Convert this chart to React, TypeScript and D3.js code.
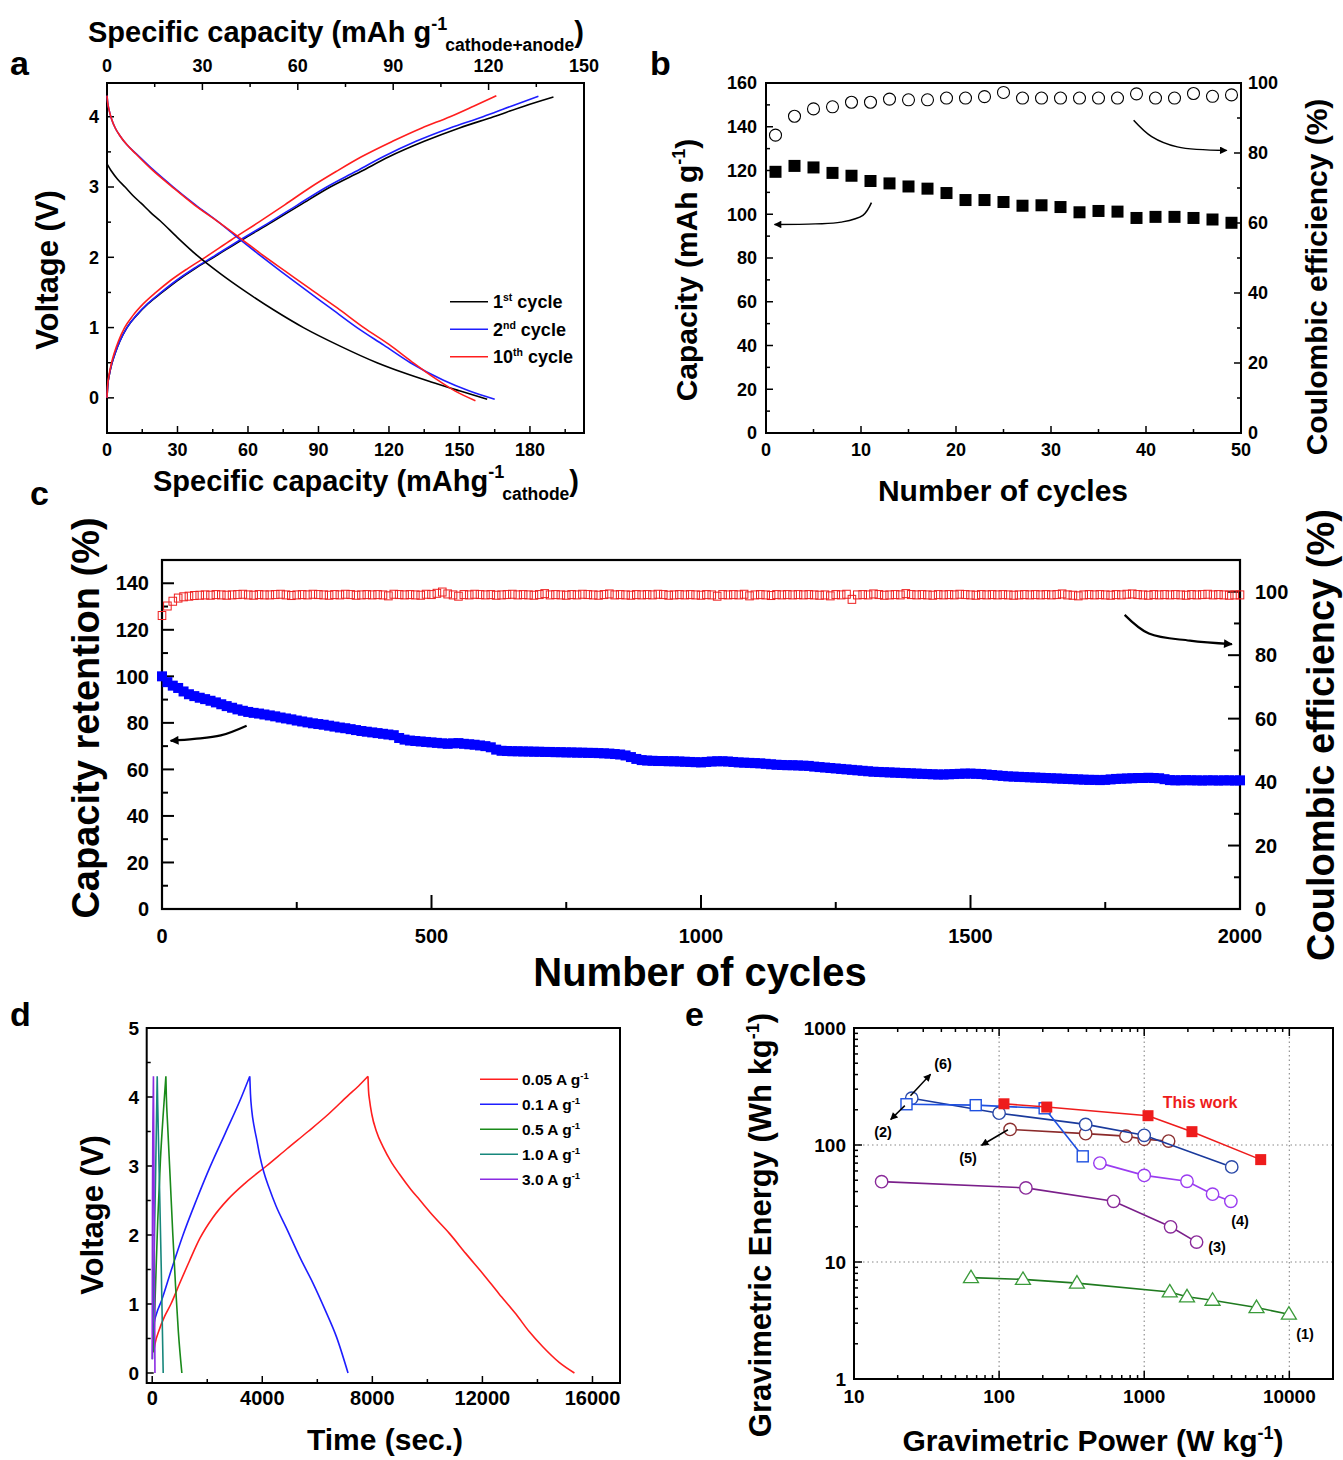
import React from "react";
import * as d3 from "d3";

const SANS = "'Liberation Sans', Arial, Helvetica, sans-serif";
const NARROW = "'Liberation Sans Narrow', 'Arial Narrow', 'Liberation Sans', Arial, sans-serif";

// ================= Panel a : charge / discharge profiles =================
const aLegendNums = ["1", "2", "10"];
const aLegendSup = ["st", "nd", "th"];
const aColors = ["#000000", "#1e1eff", "#ff1e1e"];
const aCharge1 = [[0,0],[0.3,0.17],[1,0.33],[2,0.48],[3.5,0.64],[5.5,0.81],[8.5,1.0],[12.5,1.17],[17.5,1.34],[23.4,1.5],[30,1.67],[37.5,1.84],[45.4,2.0],[57.5,2.25],[70.2,2.5],[82.5,2.75],[95,3.0],[108,3.22],[120,3.43],[135,3.65],[150,3.84],[164.5,4.0],[177.5,4.15],[190,4.28]];
const aCharge2 = [[0,0],[0.3,0.17],[1,0.33],[2,0.48],[3.5,0.64],[5.5,0.81],[8.5,1.0],[12.4,1.17],[17.3,1.34],[23,1.5],[29.5,1.67],[37,1.84],[44.8,2.0],[56.8,2.25],[69.3,2.5],[81.3,2.75],[93.5,3.0],[105.8,3.22],[117.5,3.43],[131.5,3.65],[146,3.84],[160,4.0],[172,4.15],[183.6,4.29]];
const aCharge10 = [[0,0],[0.25,0.17],[0.9,0.33],[1.8,0.48],[3.1,0.64],[4.9,0.81],[7.5,1.0],[11,1.17],[15.5,1.34],[20.8,1.5],[27,1.67],[34.3,1.84],[41.8,2.0],[53,2.25],[64.6,2.5],[75.8,2.75],[86.8,3.0],[97.5,3.22],[108.3,3.43],[121.5,3.65],[134,3.84],[146,4.0],[156,4.15],[165.7,4.3]];
const aDischarge1 = [[0,3.33],[2,3.22],[4.5,3.11],[7.7,3.0],[11,2.88],[14.5,2.77],[18.5,2.64],[22.6,2.52],[30,2.28],[38.2,2.03],[48.5,1.76],[59.5,1.5],[71,1.25],[83.6,1.0],[99,0.74],[114.9,0.5],[126,0.36],[137.6,0.23],[150,0.1],[161.8,-0.02]];
const aDischarge2 = [[0,4.3],[0.3,4.2],[1,4.08],[2,3.96],[3.5,3.84],[5.5,3.73],[8.5,3.6],[12.6,3.47],[19.5,3.25],[28.2,3.0],[37.5,2.75],[47.5,2.5],[56,2.27],[64.3,2.05],[74,1.8],[84,1.55],[95,1.28],[106.4,1.0],[117.8,0.75],[129.1,0.5],[143.2,0.25],[154,0.1],[165,-0.02]];
const aDischarge10 = [[0,4.3],[0.3,4.2],[1,4.08],[2,3.96],[3.5,3.84],[5.5,3.73],[8.5,3.6],[12.3,3.47],[19,3.25],[27.8,3.0],[37,2.75],[47.5,2.5],[56.8,2.27],[65.5,2.05],[76,1.8],[86.5,1.55],[98,1.28],[109.3,1.0],[120,0.76],[129.5,0.52],[139.5,0.28],[148,0.1],[156.8,-0.04]];
const aBottomTicks = [0, 30, 60, 90, 120, 150, 180];
const aTopTicks = [0, 30, 60, 90, 120, 150];
const aYTicks = [0, 1, 2, 3, 4];

// ================= Panel b : 50 cycles =================
const bCycles = [1,3,5,7,9,11,13,15,17,19,21,23,25,27,29,31,33,35,37,39,41,43,45,47,49];
const bCapacity = [119.4,122.1,121.4,118.9,117.6,115.2,114.1,112.7,111.7,109.7,106.5,106.5,105.6,103.9,104.1,103.3,100.9,101.5,101.2,98.3,98.8,98.8,98.3,97.6,96.1];
const bCE = [85.1,90.5,92.6,93.2,94.5,94.5,95.4,95.2,95.2,95.7,95.7,96.1,97.3,95.7,95.7,95.7,95.7,95.7,95.7,96.9,95.7,95.7,97.0,96.2,96.6];
const bXTicks = [0, 10, 20, 30, 40, 50];
const bYLTicks = [0, 20, 40, 60, 80, 100, 120, 140, 160];
const bYRTicks = [0, 20, 40, 60, 80, 100];

// ================= Panel c : 2000 cycles (every 10th cycle) =================
const cStep = 10;
const cRetention = [
  100,97.5,96,95,93.5,92.3,91.5,90.8,90.2,89.5,
  88.8,88,87.2,86.5,85.8,85.2,84.7,84.3,84,83.6,
  83.2,82.8,82.3,81.9,81.5,81,80.6,80.2,79.8,79.5,
  79.2,78.8,78.4,78,77.7,77.3,76.9,76.5,76.2,75.9,
  75.6,75.3,75,74.7,73.5,72.8,72.4,72.2,72,71.8,
  71.6,71.4,71.2,71,71.2,71.3,71,70.8,70.6,70.3,
  70,69.5,68.5,68,67.9,67.8,67.8,67.7,67.7,67.6,
  67.6,67.5,67.5,67.4,67.4,67.3,67.3,67.2,67.2,67.1,
  67.1,67,66.9,66.8,66.6,66.4,66,65.3,64.5,64,
  63.8,63.7,63.6,63.6,63.5,63.5,63.4,63.3,63.2,63.1,
  63,63.2,63.4,63.5,63.5,63.4,63.2,63,62.9,62.8,
  62.7,62.6,62.4,62.2,62,61.9,61.8,61.8,61.7,61.6,
  61.5,61.2,61,60.8,60.6,60.4,60.2,60,59.8,59.6,
  59.4,59.2,59,58.9,58.8,58.7,58.6,58.5,58.4,58.3,
  58.2,58.1,58,57.9,57.8,57.8,57.9,58,58.1,58.2,
  58.2,58.1,58,57.8,57.6,57.4,57.2,57,56.9,56.8,
  56.7,56.6,56.5,56.4,56.3,56.2,56.1,56,55.9,55.8,
  55.7,55.6,55.5,55.5,55.4,55.5,55.7,55.9,56,56.1,
  56.2,56.3,56.3,56.4,56.3,56.2,55.8,55.4,55.3,55.3,
  55.4,55.3,55.3,55.2,55.3,55.3,55.2,55.3,55.3,55.2,
  55.3];
const cCE = [
  92.5,95.5,97,98,98.4,98.6,98.8,98.9,99.0,98.9,
  99.1,99.0,98.9,99.0,99.1,99.2,99.0,98.9,99.1,99.0,
  99.0,99.1,99.2,99.0,98.8,99.0,99.1,99.0,99.2,99.1,
  99.0,98.9,99.1,99.0,99.2,99.1,98.9,99.0,99.1,99.0,
  99.1,99.0,98.7,99.2,99.1,99.0,99.1,99.0,98.9,99.2,
  99.1,99.5,99.9,99.3,99.0,98.6,99.1,99.0,99.2,99.1,
  99.0,99.1,98.9,99.0,99.1,99.2,99.0,99.1,99.0,98.9,
  99.1,99.4,99.0,99.1,99.0,98.9,99.1,99.0,99.2,99.1,
  99.0,98.9,99.1,99.3,99.0,99.1,99.0,98.9,99.1,99.0,
  99.1,99.0,99.2,99.1,98.9,99.0,99.1,99.0,99.1,99.0,
  98.9,99.1,99.0,98.6,99.1,99.0,99.1,99.0,99.2,98.7,
  99.0,99.1,99.0,98.8,99.1,99.0,99.1,99.0,99.1,99.0,
  99.1,99.0,98.9,99.0,98.7,99.1,99.0,99.2,97.6,99.0,
  99.1,99.0,99.3,99.1,98.9,99.0,99.1,99.0,99.4,99.1,
  99.0,99.1,99.0,98.9,99.1,99.0,99.1,99.0,99.2,99.1,
  99.0,98.9,99.1,99.0,99.1,99.0,99.1,99.0,98.9,99.0,
  99.1,99.0,99.1,99.0,99.1,99.0,99.1,99.3,99.0,98.9,
  98.7,99.0,99.1,99.0,99.1,99.0,98.9,99.1,99.0,99.2,
  99.3,99.1,99.0,98.9,99.1,99.0,99.1,99.0,99.1,99.0,
  98.9,99.1,99.0,99.1,99.2,99.0,99.1,99.0,98.9,99.0,
  99.0];
const cXTicks = [0, 500, 1000, 1500, 2000];
const cYLTicks = [0, 20, 40, 60, 80, 100, 120, 140];
const cYRTicks = [0, 20, 40, 60, 80, 100];

// ================= Panel d : GCD at different currents =================
const dLabels = ["0.05 A g", "0.1 A g", "0.5 A g", "1.0 A g", "3.0 A g"];
const dColors = ["#ff1e1e", "#1e1eff", "#1a8a1a", "#17877c", "#8a2be2"];
const d005 = [[50,0.3],[100,0.42],[250,0.62],[450,0.82],[680,1.0],[1000,1.3],[1350,1.62],[1731,1.95],[2200,2.25],[2760,2.52],[3400,2.76],[4150,3.0],[4900,3.25],[5664,3.5],[6400,3.75],[7116,4.02],[7500,4.16],[7842,4.3],[7860,4.1],[7900,3.95],[7980,3.75],[8150,3.5],[8385,3.28],[8700,3.05],[8990,2.88],[9400,2.66],[9717,2.51],[10250,2.26],[10806,2.02],[11400,1.73],[12016,1.44],[12600,1.15],[13226,0.85],[13700,0.6],[14194,0.38],[14800,0.15],[15344,0]];
const d01 = [[20,0.45],[60,0.7],[150,0.85],[340,1.05],[700,1.5],[1120,2.0],[1600,2.5],[2094,2.98],[2650,3.47],[3244,4.0],[3546,4.3],[3570,4.05],[3620,3.8],[3700,3.58],[3800,3.38],[3909,3.15],[4050,2.92],[4250,2.68],[4500,2.42],[4878,2.1],[5400,1.65],[5846,1.3],[6300,0.9],[6700,0.52],[7116,0]];
const d05 = [[30,0.3],[60,0.5],[100,1.0],[200,2.2],[300,3.1],[400,3.75],[497,4.3],[515,4.0],[560,3.6],[650,2.85],[750,2.0],[850,1.25],[950,0.6],[1078,0]];
const d10 = [[10,0.2],[20,0.5],[60,1.5],[120,2.8],[182,4.3],[200,3.9],[260,2.8],[330,1.5],[400,0]];
const d30 = [[0,0.2],[10,2.5],[25,3.6],[45,4.3],[60,3.2],[80,1.5],[100,0]];
const dXTicks = [0, 4000, 8000, 12000, 16000];
const dYTicks = [0, 1, 2, 3, 4, 5];

// ================= Panel e : Ragone plot =================
const eThisWorkP = [108, 213, 1062, 2133, 6350];
const eThisWorkE = [225, 211, 178, 130, 75];
const e6P = [25, 100, 395, 1000, 4010];
const e6E = [251, 187, 150, 121, 65];
const e2P = [23, 69, 206, 377];
const e2E = [223, 219, 206, 80];
const e5P = [119, 395, 748, 1000, 1473];
const e5E = [136, 125, 119, 112, 108];
const e4P = [495, 1000, 1972, 2958, 3955];
const e4E = [70, 55, 49, 38, 33];
const e3P = [15.5, 153, 615, 1520, 2296];
const e3E = [48.6, 43, 33, 20, 14.8];
const e1P = [64, 146, 344, 1500, 1972, 2958, 5943, 9930];
const e1E = [7.35, 7.1, 6.6, 5.55, 5.04, 4.71, 4.08, 3.58];
const eXTicks = [10, 100, 1000, 10000];
const eYTicks = [1, 10, 100, 1000];

type Sc = (v: number) => number;

function Ticks(p: { s: Sc; v: number[]; at: number; side: string; len: number; sw?: number }) {
  const { s, v, at, side, len } = p;
  return (
    <g stroke="#000" strokeWidth={p.sw || 1.5}>
      {v.map((t, i) => {
        const q = s(t);
        if (side === "left") return <line key={i} x1={at} x2={at + len} y1={q} y2={q} />;
        if (side === "right") return <line key={i} x1={at} x2={at - len} y1={q} y2={q} />;
        if (side === "bottom") return <line key={i} x1={q} x2={q} y1={at} y2={at - len} />;
        return <line key={i} x1={q} x2={q} y1={at} y2={at + len} />;
      })}
    </g>
  );
}

function Labels(p: { s: Sc; v: number[]; at: number; side: string; size: number }) {
  const { s, v, at, side, size } = p;
  const anchor = side === "left" ? "end" : side === "right" ? "start" : "middle";
  return (
    <g fontFamily={NARROW} fontWeight="bold" fontSize={size} fill="#000" textAnchor={anchor}>
      {v.map((t, i) => {
        const q = s(t);
        return side === "left" || side === "right" ? (
          <text key={i} x={at} y={q} dy="0.36em">{String(t)}</text>
        ) : (
          <text key={i} x={q} y={at} dy="0.36em">{String(t)}</text>
        );
      })}
    </g>
  );
}

const rng = (a: number, b: number, s: number) => d3.range(a, b + s / 2, s);
const logMinor = (lo: number, hi: number) => {
  const out: number[] = [];
  for (let dec = 1; dec <= 10000; dec *= 10)
    for (let k = 2; k <= 9; k++) {
      const v = k * dec;
      if (v > lo && v < hi) out.push(v);
    }
  return out;
};

function VTitle(p: { x: number; y: number; size: number; children: any }) {
  return (
    <text transform={`translate(${p.x},${p.y}) rotate(-90)`} textAnchor="middle" dy="0.36em"
      fontFamily={SANS} fontWeight="bold" fontSize={p.size} fill="#000">{p.children}</text>
  );
}

export default function App() {
  const aX = d3.scaleLinear().domain([0, 203]).range([107, 584]);
  const aXTop = d3.scaleLinear().domain([0, 150]).range([107, 584]);
  const aY = d3.scaleLinear().domain([-0.5, 4.48]).range([433, 83]);

  const bX = d3.scaleLinear().domain([0, 50]).range([766, 1241]);
  const bYL = d3.scaleLinear().domain([0, 160]).range([433, 83]);
  const bYR = d3.scaleLinear().domain([0, 100]).range([433, 83]);

  const cX = d3.scaleLinear().domain([0, 2000]).range([162, 1240]);
  const cYL = d3.scaleLinear().domain([0, 150]).range([909, 560]);
  const cYR = d3.scaleLinear().domain([0, 110]).range([909, 560]);

  const dX = d3.scaleLinear().domain([-200, 17000]).range([146.7, 620]);
  const dY = d3.scaleLinear().domain([-0.145, 5]).range([1383, 1028]);

  const eX = d3.scaleLog().domain([10, 20000]).range([854, 1333]);
  const eY = d3.scaleLog().domain([1, 1000]).range([1379, 1028]);

  const aLine = d3.line<number[]>().x((d) => aX(d[0])).y((d) => aY(d[1])).curve(d3.curveMonotoneX);
  const dLine = d3.line<number[]>().x((d) => dX(d[0])).y((d) => dY(d[1])).curve(d3.curveMonotoneX);
  const bArrowLine = d3.line<number[]>().x((d) => bX(d[0])).y((d) => bYL(d[1])).curve(d3.curveCatmullRom);
  const cArrowL = d3.line<number[]>().x((d) => cX(d[0])).y((d) => cYL(d[1])).curve(d3.curveCatmullRom);
  const cArrowR = d3.line<number[]>().x((d) => cX(d[0])).y((d) => cYR(d[1])).curve(d3.curveCatmullRom);
  const eLine = d3.line<number[]>().x((d) => eX(d[0])).y((d) => eY(d[1]));

  const aCharges = [aCharge1, aCharge2, aCharge10];
  const aDischarges = [aDischarge1, aDischarge2, aDischarge10];
  const dSeries = [d005, d01, d05, d10, d30];
  // split each GCD profile at its peak so that each half is smoothed separately
  const dPath = (s: number[][]) => {
    const k = d3.maxIndex(s, (d) => d[1]);
    return (dLine(s.slice(0, k + 1)) || "") + (dLine(s.slice(k)) || "");
  };

  const zip = (a: number[], b: number[]) => a.map((v, i) => [v, b[i]]);
  const eSeries = [
    { p: e1P, e: e1E, line: "#1f7a1f", mk: "#3a9a3a", shape: "tri" },
    { p: e3P, e: e3E, line: "#7a1f8a", mk: "#8a2a9a", shape: "circ" },
    { p: e4P, e: e4E, line: "#9a3cf0", mk: "#9a3cf0", shape: "circ" },
    { p: e5P, e: e5E, line: "#8b2a2a", mk: "#8b3030", shape: "circ" },
    { p: e6P, e: e6E, line: "#1a3a9c", mk: "#2b4aa8", shape: "circ" },
    { p: e2P, e: e2E, line: "#1e50e0", mk: "#1e50e0", shape: "sq" },
    { p: eThisWorkP, e: eThisWorkE, line: "#ee1c1c", mk: "#ee1c1c", shape: "fsq" },
  ];

  const t1 = { fontFamily: SANS, fontWeight: "bold" as const, fill: "#000" };

  return (
    <svg width={1343} height={1460} style={{ position: "absolute", left: 0, top: 0, background: "#fff" }}>
      <defs>
        <marker id="ah" viewBox="0 0 10 10" refX="9" refY="5" markerWidth="6" markerHeight="5" orient="auto" markerUnits="strokeWidth">
          <path d="M0,0 L10,5 L0,10 z" fill="#000" />
        </marker>
        <marker id="ahc" viewBox="0 0 10 10" refX="9" refY="5" markerWidth="5.5" markerHeight="4" orient="auto" markerUnits="strokeWidth">
          <path d="M0,0 L10,5 L0,10 z" fill="#000" />
        </marker>
      </defs>
      <rect x={0} y={0} width={1343} height={1460} fill="#fff" />

      {/* ======================= Panel a ======================= */}
      <text x={10} y={75} {...t1} fontSize={34}>a</text>
      <text x={88} y={42} {...t1} fontSize={29}>
        Specific capacity (mAh g<tspan fontSize={18} dy={-12}>-1</tspan>
        <tspan fontSize={17.5} dy={21} dx={-2}>cathode+anode</tspan>
        <tspan fontSize={29} dy={-9}>)</tspan>
      </text>
      <rect x={107} y={83} width={477} height={350} fill="none" stroke="#000" strokeWidth={2} />
      <Ticks s={aX} v={aBottomTicks} at={433} side="bottom" len={7} />
      <Ticks s={aX} v={rng(15, 195, 30)} at={433} side="bottom" len={4} />
      <Ticks s={aXTop} v={aTopTicks} at={83} side="top" len={7} />
      <Ticks s={aXTop} v={rng(15, 135, 30)} at={83} side="top" len={4} />
      <Ticks s={aY} v={aYTicks} at={107} side="left" len={7} />
      <Ticks s={aY} v={rng(-0.5, 4, 1)} at={107} side="left" len={4} />
      <Labels s={aX} v={aBottomTicks} at={450} side="bottom" size={18} />
      <Labels s={aXTop} v={aTopTicks} at={66} side="top" size={18} />
      <Labels s={aY} v={aYTicks} at={99} side="left" size={18} />
      {aCharges.map((c, i) => (
        <path key={"ac" + i} d={aLine(c) || ""} fill="none" stroke={aColors[i]} strokeWidth={1.6} />
      ))}
      {aDischarges.map((c, i) => (
        <path key={"ad" + i} d={aLine(c) || ""} fill="none" stroke={aColors[i]} strokeWidth={1.6} />
      ))}
      {aLegendNums.map((n, i) => (
        <g key={"al" + i}>
          <line x1={450} x2={488} y1={301.7 + i * 27.5} y2={301.7 + i * 27.5} stroke={aColors[i]} strokeWidth={1.6} />
          <text x={493} y={301.7 + i * 27.5} dy="0.36em" {...t1} fontSize={18}>
            {n}<tspan fontSize={10.5} dy={-7}>{aLegendSup[i]}</tspan><tspan dy={7}> cycle</tspan>
          </text>
        </g>
      ))}
      <VTitle x={47} y={270} size={31}>Voltage (V)</VTitle>
      <text x={153} y={491} {...t1} fontSize={29}>
        Specific capacity (mAhg<tspan fontSize={18} dy={-13}>-1</tspan>
        <tspan fontSize={17.5} dy={22} dx={-2}>cathode</tspan>
        <tspan fontSize={29} dy={-9}>)</tspan>
      </text>

      {/* ======================= Panel b ======================= */}
      <text x={650} y={75} {...t1} fontSize={34}>b</text>
      <rect x={766} y={83} width={475} height={350} fill="none" stroke="#000" strokeWidth={2} />
      <Ticks s={bX} v={bXTicks} at={433} side="bottom" len={7} />
      <Ticks s={bX} v={rng(5, 45, 10)} at={433} side="bottom" len={4} />
      <Ticks s={bYL} v={bYLTicks} at={766} side="left" len={7} />
      <Ticks s={bYL} v={rng(10, 150, 20)} at={766} side="left" len={4} />
      <Ticks s={bYR} v={bYRTicks} at={1241} side="right" len={7} />
      <Ticks s={bYR} v={rng(10, 90, 20)} at={1241} side="right" len={4} />
      <Labels s={bX} v={bXTicks} at={450} side="bottom" size={18} />
      <Labels s={bYL} v={bYLTicks} at={757} side="left" size={18} />
      <Labels s={bYR} v={bYRTicks} at={1248} side="right" size={18} />
      {bCycles.map((c, i) => (
        <rect key={"bs" + i} x={bX(c) - 6} y={bYL(bCapacity[i]) - 6} width={12} height={12} fill="#000" />
      ))}
      {bCycles.map((c, i) => (
        <circle key={"bc" + i} cx={bX(c)} cy={bYR(bCE[i])} r={6} fill="none" stroke="#000" strokeWidth={1.1} />
      ))}
      <path d={bArrowLine([[11.1, 105.3], [10.2, 99.5], [7.9, 96.4], [5.2, 95.6], [0.9, 95.3]]) || ""}
        fill="none" stroke="#000" strokeWidth={1.5} markerEnd="url(#ah)" />
      <path d={bArrowLine([[38.7, 143], [40.6, 135.5], [43.3, 130.8], [48.5, 129.2]]) || ""}
        fill="none" stroke="#000" strokeWidth={1.5} markerEnd="url(#ah)" />
      <VTitle x={686} y={270} size={30}>
        Capacity (mAh g<tspan fontSize={18} dy={-12}>-1</tspan><tspan dy={12}>)</tspan>
      </VTitle>
      <VTitle x={1316} y={277} size={30}>Coulombic efficiency (%)</VTitle>
      <text x={1003} y={501} textAnchor="middle" {...t1} fontSize={30}>Number of cycles</text>

      {/* ======================= Panel c ======================= */}
      <text x={30} y={505} {...t1} fontSize={34}>c</text>
      <rect x={162} y={560} width={1078} height={349} fill="none" stroke="#000" strokeWidth={2.2} />
      <Ticks s={cX} v={cXTicks} at={909} side="bottom" len={14} sw={2} />
      <Ticks s={cX} v={rng(250, 1750, 500)} at={909} side="bottom" len={7} sw={2} />
      <Ticks s={cYL} v={cYLTicks} at={162} side="left" len={12} sw={2} />
      <Ticks s={cYL} v={rng(10, 150, 20)} at={162} side="left" len={6} sw={2} />
      <Ticks s={cYR} v={cYRTicks} at={1240} side="right" len={12} sw={2} />
      <Ticks s={cYR} v={rng(10, 110, 20)} at={1240} side="right" len={6} sw={2} />
      <Labels s={cX} v={cXTicks} at={936} side="bottom" size={20} />
      <Labels s={cYL} v={cYLTicks} at={149} side="left" size={20} />
      <Labels s={cYR} v={cYRTicks} at={1255} side="right" size={20} />
      {cCE.map((v, i) => (
        <rect key={"cr" + i} x={cX(i * cStep) - 3.8} y={cYR(v) - 4} width={7.6} height={8} fill="none" stroke="#ee2020" strokeWidth={1} />
      ))}
      {cRetention.map((v, i) => (
        <rect key={"cb" + i} x={cX(i * cStep) - 5} y={cYL(v) - 5} width={10} height={10} fill="#0000ff" />
      ))}
      <path d={cArrowL([[157, 78.8], [109, 74.6], [60, 73.1], [16, 72.3]]) || ""}
        fill="none" stroke="#000" strokeWidth={2.2} markerEnd="url(#ahc)" />
      <path d={cArrowR([[1786, 92.7], [1831, 86.8], [1907, 84.6], [1985, 83.5]]) || ""}
        fill="none" stroke="#000" strokeWidth={2.2} markerEnd="url(#ahc)" />
      <VTitle x={85} y={718} size={38}>Capacity retention (%)</VTitle>
      <VTitle x={1320} y={735} size={38}>Coulombic efficiency (%)</VTitle>
      <text x={700} y={986} textAnchor="middle" {...t1} fontSize={40}>Number of cycles</text>

      {/* ======================= Panel d ======================= */}
      <text x={10} y={1026} {...t1} fontSize={34}>d</text>
      <rect x={146.7} y={1028} width={473.3} height={355} fill="none" stroke="#000" strokeWidth={2} />
      <Ticks s={dX} v={dXTicks} at={1383} side="bottom" len={7} />
      <Ticks s={dX} v={rng(2000, 14000, 4000)} at={1383} side="bottom" len={4} />
      <Ticks s={dY} v={dYTicks} at={146.7} side="left" len={7} />
      <Ticks s={dY} v={rng(0.5, 4.5, 1)} at={146.7} side="left" len={4} />
      <Labels s={dX} v={dXTicks} at={1398} side="bottom" size={20} />
      <Labels s={dY} v={dYTicks} at={139} side="left" size={19} />
      {dSeries.map((s, i) => (
        <path key={"ds" + i} d={dPath(s)} fill="none" stroke={dColors[i]} strokeWidth={1.6} />
      ))}
      {dLabels.map((l, i) => (
        <g key={"dl" + i}>
          <line x1={480} x2={518} y1={1079.3 + i * 25} y2={1079.3 + i * 25} stroke={dColors[i]} strokeWidth={1.6} />
          <text x={522} y={1079.3 + i * 25} dy="0.36em" {...t1} fontSize={15.5}>
            {l}<tspan fontSize={9.5} dy={-6}>-1</tspan>
          </text>
        </g>
      ))}
      <VTitle x={92} y={1215} size={31}>Voltage (V)</VTitle>
      <text x={385} y={1450} textAnchor="middle" {...t1} fontSize={30}>Time (sec.)</text>

      {/* ======================= Panel e ======================= */}
      <text x={685} y={1026} {...t1} fontSize={34}>e</text>
      <g stroke="#888" strokeWidth={1.1} strokeDasharray="1.5,3">
        {[100, 1000, 10000].map((v) => (
          <line key={"gx" + v} x1={eX(v)} x2={eX(v)} y1={1028} y2={1379} />
        ))}
        {[10, 100].map((v) => (
          <line key={"gy" + v} x1={854} x2={1333} y1={eY(v)} y2={eY(v)} />
        ))}
      </g>
      <rect x={854} y={1028} width={479} height={351} fill="none" stroke="#000" strokeWidth={2} />
      <Ticks s={eX} v={eXTicks} at={1379} side="bottom" len={8} />
      <Ticks s={eX} v={logMinor(10, 20000)} at={1379} side="bottom" len={4} />
      <Ticks s={eX} v={eXTicks} at={1028} side="top" len={8} />
      <Ticks s={eX} v={logMinor(10, 20000)} at={1028} side="top" len={4} />
      <Ticks s={eY} v={eYTicks} at={854} side="left" len={8} />
      <Ticks s={eY} v={logMinor(1, 1000)} at={854} side="left" len={4} />
      <Labels s={eX} v={eXTicks} at={1396} side="bottom" size={19} />
      <Labels s={eY} v={eYTicks} at={846} side="left" size={19} />
      {eSeries.map((s, i) => {
        const pts = zip(s.p, s.e);
        return (
          <g key={"es" + i}>
            <path d={eLine(pts) || ""} fill="none" stroke={s.line} strokeWidth={1.6} />
            {pts.map((d, j) => {
              const x = eX(d[0]);
              const y = eY(d[1]);
              if (s.shape === "circ")
                return <circle key={j} cx={x} cy={y} r={6.2} fill="#fff" stroke={s.mk} strokeWidth={1.4} />;
              if (s.shape === "sq")
                return <rect key={j} x={x - 5.5} y={y - 5.5} width={11} height={11} fill="#fff" stroke={s.mk} strokeWidth={1.4} />;
              if (s.shape === "fsq")
                return <rect key={j} x={x - 5.5} y={y - 5.5} width={11} height={11} fill={s.mk} />;
              return <path key={j} d={`M${x},${y - 7.5} L${x + 7.5},${y + 5} L${x - 7.5},${y + 5} Z`} fill="#fff" stroke={s.mk} strokeWidth={1.3} />;
            })}
          </g>
        );
      })}
      <path d={eLine([[24.5, 264], [33.7, 402]]) || ""} stroke="#000" strokeWidth={1.5} fill="none" markerEnd="url(#ah)" />
      <path d={eLine([[22.4, 217], [17.9, 165]]) || ""} stroke="#000" strokeWidth={1.5} fill="none" markerEnd="url(#ah)" />
      <path d={eLine([[115, 135], [75.7, 99.5]]) || ""} stroke="#000" strokeWidth={1.5} fill="none" markerEnd="url(#ah)" />
      <g {...t1} fontSize={14.5} textAnchor="middle">
        <text x={943} y={1064} dy="0.36em">(6)</text>
        <text x={883} y={1132} dy="0.36em">(2)</text>
        <text x={968} y={1158} dy="0.36em">(5)</text>
        <text x={1240} y={1221} dy="0.36em">(4)</text>
        <text x={1217} y={1247} dy="0.36em">(3)</text>
        <text x={1305} y={1334} dy="0.36em">(1)</text>
      </g>
      <text x={1200} y={1102} dy="0.36em" textAnchor="middle" fontFamily={SANS} fontWeight="bold" fontSize={16} fill="#ee1c1c">This work</text>
      <VTitle x={760} y={1225} size={31}>
        Gravimetric Energy (Wh kg<tspan fontSize={18} dy={-12}>-1</tspan><tspan dy={12}>)</tspan>
      </VTitle>
      <text x={1093} y={1451} textAnchor="middle" {...t1} fontSize={30}>
        Gravimetric Power (W kg<tspan fontSize={18} dy={-12}>-1</tspan><tspan dy={12}>)</tspan>
      </text>
    </svg>
  );
}
